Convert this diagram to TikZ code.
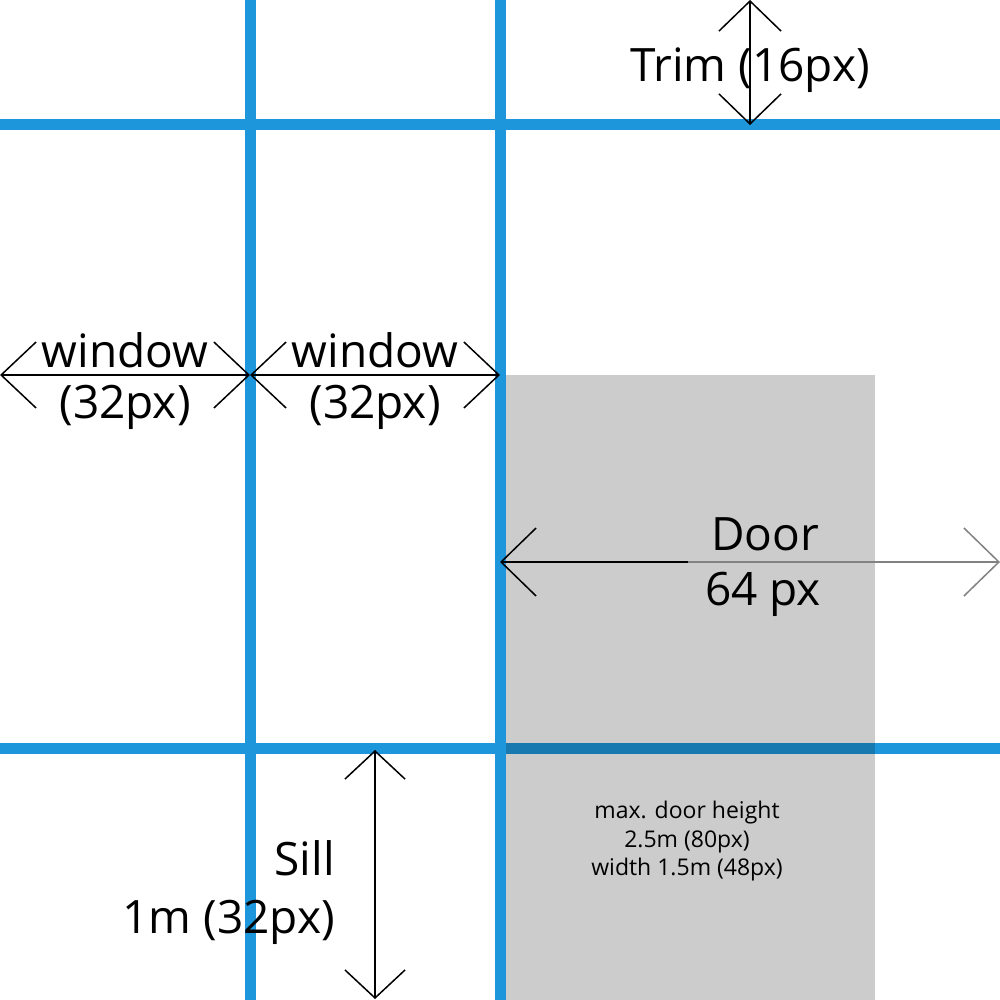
\documentclass[tikz,border=0pt]{standalone}
\usepackage{fontspec}
\setmainfont{Open Sans}
\usetikzlibrary{arrows.meta}
\definecolor{gridblue}{RGB}{30,150,220}
\definecolor{fadegray}{RGB}{130,130,130}
\tikzset{
  gridline/.style={draw=gridblue,line width=11pt},
  dimline/.style={draw=black,line width=2pt},
  big/.style={font=\fontsize{46}{54}\selectfont,inner sep=0pt},
  small/.style={font=\fontsize{23}{28}\selectfont,inner sep=0pt},
}
\begin{document}
\begin{tikzpicture}[x=1pt,y=-1pt]
\useasboundingbox (0,0) rectangle (1000,1000);
\fill[white] (0,0) rectangle (1000,1000);
% grid
\coordinate (v1t) at (250,0); \coordinate (v1b) at (250,1000);
\coordinate (v2t) at (500,0); \coordinate (v2b) at (500,1000);
\coordinate (h1l) at (0,125); \coordinate (h1r) at (1000,125);
\coordinate (h2l) at (0,748); \coordinate (h2r) at (1000,748);
\draw[gridline] (v1t) -- (v1b);
\draw[gridline] (v2t) -- (v2b);
\draw[gridline] (h1l) -- (h1r);
\draw[gridline] (h2l) -- (h2r);
% door area
\fill[black,opacity=0.2] (505.5,375) rectangle (875,1000);
% trim
\coordinate (trimT) at (750,0); \coordinate (trimB) at (750,125);
\draw[dimline,{Straight Barb[length=30pt,width=62pt,line width=1.5pt]}-{Straight Barb[length=30pt,width=62pt,line width=1.5pt]}] (trimT) -- (trimB);
\node[big,anchor=base] (trim) at (750,82) {Trim (16px)};
% windows
\coordinate (w0) at (0,375); \coordinate (w1) at (250,375); \coordinate (w2) at (500,375);
\draw[dimline,{Straight Barb[length=35pt,width=66pt,line width=1.5pt]}-{Straight Barb[length=35pt,width=66pt,line width=1.5pt]}] (w0) -- (w1);
\draw[dimline,{Straight Barb[length=35pt,width=66pt,line width=1.5pt]}-{Straight Barb[length=35pt,width=66pt,line width=1.5pt]}] (w1) -- (w2);
\node[big,anchor=base] (win1a) at (125,367) {window};
\node[big,anchor=base] (win1b) at (125,418) {(32px)};
\node[big,anchor=base] (win2a) at (375,367) {window};
\node[big,anchor=base] (win2b) at (375,418) {(32px)};
% door
\coordinate (d0) at (500,562); \coordinate (dm) at (688,562); \coordinate (d1) at (1000,562);
\draw[dimline,{Straight Barb[length=35pt,width=68pt,line width=1.5pt]}-] (d0) -- (dm);
\draw[draw=fadegray,line width=1.5pt,-{Straight Barb[length=35pt,width=68pt,line width=1.5pt]}] (dm) -- (d1);
\node[big,anchor=base] (doora) at (765,550) {Door};
\node[big,anchor=base] (doorb) at (763,605) {64 px};
% sill
\coordinate (s0) at (375,750); \coordinate (s1) at (375,999);
\draw[dimline,{Straight Barb[length=28pt,width=60pt,line width=1.5pt]}-{Straight Barb[length=28pt,width=60pt,line width=1.5pt]}] (s0) -- (s1);
\node[big,anchor=base east] (silla) at (335,875) {Sill};
\node[big,anchor=base east] (sillb) at (335,933) {1m (32px)};
% door text
\node[small,anchor=base] (dt1) at (687,818) {max. door height};
\node[small,anchor=base] (dt2) at (687,847) {2.5m (80px)};
\node[small,anchor=base] (dt3) at (687,875) {width 1.5m (48px)};
\end{tikzpicture}
\end{document}
